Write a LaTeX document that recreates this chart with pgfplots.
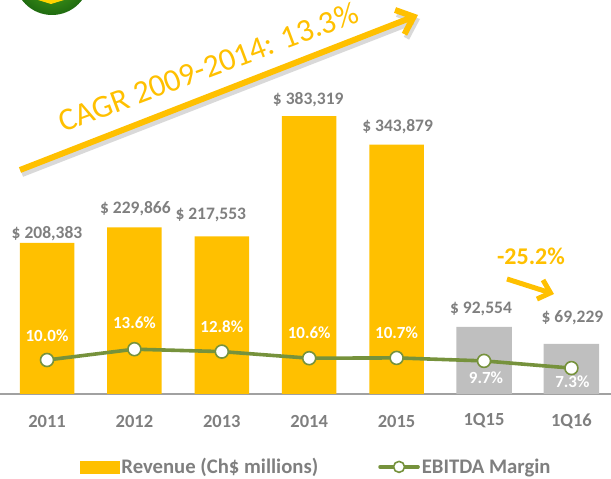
\documentclass[border=0pt]{standalone}
\usepackage{pgfplots}
\pgfplotsset{compat=1.18}
\usepackage{fontspec}
\setmainfont{Carlito}
\usetikzlibrary{arrows.meta}
\definecolor{gold}{HTML}{FFC000}
\definecolor{barg}{HTML}{BFBFBF}
\definecolor{txtg}{HTML}{7F7F7F}
\definecolor{olive}{HTML}{76923C}
\definecolor{logoA}{HTML}{55B01E}
\definecolor{logoB}{HTML}{1F6B10}
\begin{document}
\begin{tikzpicture}[x=1pt,y=1pt]
\useasboundingbox (0,-85) rectangle (611,394);
% logo
\begin{scope}
\clip (0,-85) rectangle (611,394);
\shade[inner color=logoA,outer color=logoB] (52,416.5) circle (37.5);
\fill[gold!70!yellow] (38,394) -- (51,390) -- (64,394) -- cycle;
\end{scope}
% arrows
\draw[line width=6,black!25,opacity=.6,-{Straight Barb[length=15,width=26]}] (22,220) -- (420,375);
\draw[line width=6,gold,-{Straight Barb[length=15,width=26]}] (20,224) -- (418,379);
\draw[line width=5,gold,-{Straight Barb[length=11,width=20]}] (507,115) -- (554,100);
\node[text=gold,font=\fontsize{32}{32}\selectfont,rotate=20.5] at (208,327) {CAGR 2009-2014: 13.3\%};
\node[text=gold,font=\bfseries\fontsize{24}{24}\selectfont] at (531,138) {-25.2\%};
\begin{axis}[
  at={(0,0)},anchor=south west,scale only axis,width=611pt,height=394pt,
  xmin=-0.5378,xmax=6.453,ymin=0,ymax=543448,
  axis y line=none,axis x line*=bottom,
  axis line style={draw=black!37,line width=2pt,-},
  xtick={0,...,6},xticklabels={2011,2012,2013,2014,2015,1Q15,1Q16},
  major tick length=0pt,
  xticklabel style={font=\bfseries\fontsize{18.5}{18.5}\selectfont,text=txtg,anchor=center,yshift=-27pt},
  clip=false]
\addplot[ybar,bar width=54.5pt,bar shift=0pt,fill=gold,draw=none] table {
x y
0 208383
1 229866
2 217553
3 383319
4 343879
};
\addplot[ybar,bar width=55.5pt,bar shift=0pt,fill=barg,draw=none] table {
x y
5 92554
6 69229
};
\addplot[draw=none,mark=none,
  visualization depends on={value \thisrow{dy}\as\dy},
  visualization depends on={value \thisrow{dx}\as\dx},
  point meta=explicit symbolic,
  nodes near coords={\$ \pgfplotspointmeta},
  every node near coord/.append style={anchor=center,xshift=\dx pt,yshift=\dy pt,text=txtg,font=\bfseries\fontsize{17.5}{17.5}\selectfont}] table[meta=lab] {
x y dx dy lab
0 208383 0 9 208,383
1 229866 1 19 229,866
2 217553 -11 21 217,553
3 383319 -1 16 383,319
4 343879 1 18 343,879
5 92554 -3 18 92,554
6 69229 1 26 69,229
};
\end{axis}
\begin{axis}[
  at={(0,0)},anchor=south west,scale only axis,width=611pt,height=394pt,
  xmin=-0.5378,xmax=6.453,ymin=-1.3333,ymax=130,
  hide x axis,hide y axis,clip=false,
  legend columns=2,
  legend style={at={(axis description cs:0.131,-0.185)},anchor=west,draw=none,fill=none,inner sep=0pt,outer sep=0pt,
    font=\bfseries\fontsize{20.7}{20.7}\selectfont,text=txtg,
    nodes={inner xsep=2pt},
    /tikz/every even column/.append style={column sep=58pt}},
  legend cell align=left]
\addlegendimage{legend image code/.code={\fill[gold] (0pt,-6pt) rectangle (39pt,6pt);}}
\addlegendentry{Revenue (Ch\$ millions)}
\addplot[olive,line width=3.6pt,mark=*,mark size=6.5pt,
  mark options={fill=white,draw=olive,line width=1.6pt},
  visualization depends on={value \thisrow{dx}\as\dx},
  visualization depends on={value \thisrow{dy}\as\dy},
  point meta=explicit symbolic,
  nodes near coords={\pgfplotspointmeta\%},
  every node near coord/.append style={anchor=center,xshift=\dx pt,yshift=\dy pt,text=white,font=\bfseries\fontsize{17}{17}\selectfont},
  legend image code/.code={\draw[olive,line width=3.6pt,line cap=round] (0pt,0pt) -- (38pt,0pt);\draw[olive,fill=white,line width=1.6pt] (19pt,0pt) circle (5.5pt);}] table[meta=lab] {
x y dx dy lab
0 10.0 0 24 10.0
1 13.6 0 26 13.6
2 12.8 0 25 12.8
3 10.6 0 25 10.6
4 10.7 0 25 10.7
5 9.7 2 -17 9.7
6 7.3 1 -14 7.3
};
\addlegendentry{EBITDA Margin}
\end{axis}
\end{tikzpicture}
\end{document}
